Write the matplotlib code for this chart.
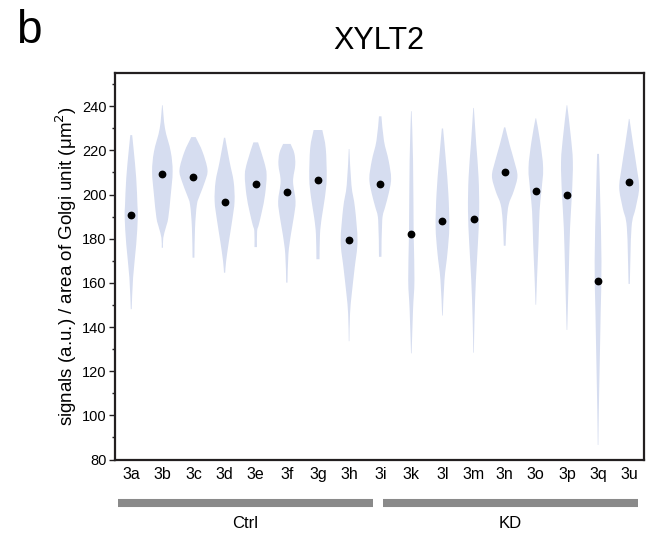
import matplotlib
matplotlib.use("Agg")
import matplotlib.pyplot as plt
import matplotlib.transforms as mtransforms
from matplotlib.path import Path
from matplotlib.patches import PathPatch
from matplotlib.ticker import MultipleLocator
import numpy as np

plt.rcParams['font.family'] = ['Liberation Sans', 'DejaVu Sans']

# sample names along the x axis
samples = ['3a', '3b', '3c', '3d', '3e', '3f', '3g', '3h', '3i',
           '3k', '3l', '3m', '3n', '3o', '3p', '3q', '3u']

# median signal per sample
medians = [190.8, 209.1, 207.9, 196.6, 204.6, 201.1, 206.7, 179.3, 204.9,
           182.0, 188.0, 189.0, 210.0, 201.7, 200.0, 161.0, 205.8]

# violin outlines: signal levels (top to bottom) and density half-widths
violin_levels = [
    [226.9, 220.0, 207.4, 195.0, 189.4, 177.4, 162.4, 148.1],
    [240.4, 229.9, 219.4, 210.4, 199.9, 189.4, 184.9, 180.4, 175.9],
    [226.0, 219.4, 211.2, 205.9, 199.9, 195.4, 184.9, 171.4],
    [225.7, 214.9, 205.9, 196.9, 187.9, 178.9, 169.9, 164.6],
    [223.6, 214.9, 208.9, 199.9, 192.4, 186.4, 183.4, 176.2],
    [222.9, 218.7, 213.4, 205.9, 196.9, 189.4, 181.9, 172.9, 160.1],
    [229.2, 220.9, 207.4, 198.4, 189.4, 181.9, 170.7],
    [220.6, 204.4, 193.9, 178.9, 166.9, 154.9, 145.9, 133.6],
    [235.4, 224.4, 215.4, 207.2, 200.3, 194.4, 188.4, 171.8],
    [237.7, 215.4, 182.4, 161.4, 147.9, 128.1],
    [229.9, 215.4, 200.4, 185.4, 173.4, 161.4, 145.2],
    [239.2, 222.9, 207.9, 192.9, 177.9, 161.4, 143.4, 128.4],
    [230.4, 222.5, 215.0, 208.3, 201.5, 195.5, 188.0, 176.8],
    [234.5, 224.0, 212.0, 201.5, 192.5, 177.5, 162.4, 150.1],
    [240.4, 226.9, 214.9, 199.9, 184.9, 162.4, 138.7],
    [218.4, 199.9, 169.9, 147.4, 124.9, 102.4, 86.6],
    [234.2, 222.5, 212.0, 203.0, 194.0, 185.0, 159.5],
]
violin_widths = [
    [0.03, 0.08, 0.16, 0.20, 0.21, 0.16, 0.06, 0.015],
    [0.01, 0.085, 0.27, 0.33, 0.27, 0.19, 0.11, 0.03, 0.02],
    [0.07, 0.29, 0.45, 0.37, 0.21, 0.11, 0.05, 0.03],
    [0.02, 0.16, 0.29, 0.32, 0.24, 0.14, 0.05, 0.02],
    [0.075, 0.27, 0.35, 0.30, 0.20, 0.10, 0.045, 0.04],
    [0.12, 0.24, 0.27, 0.20, 0.28, 0.22, 0.13, 0.05, 0.02],
    [0.14, 0.25, 0.28, 0.22, 0.12, 0.065, 0.05],
    [0.01, 0.075, 0.19, 0.27, 0.18, 0.085, 0.03, 0.01],
    [0.04, 0.12, 0.27, 0.35, 0.27, 0.16, 0.065, 0.04],
    [0.01, 0.055, 0.075, 0.10, 0.055, 0.01],
    [0.02, 0.11, 0.19, 0.22, 0.16, 0.065, 0.01],
    [0.01, 0.085, 0.16, 0.18, 0.14, 0.075, 0.03, 0.01],
    [0.02, 0.16, 0.31, 0.41, 0.29, 0.13, 0.065, 0.03],
    [0.01, 0.14, 0.235, 0.18, 0.12, 0.085, 0.04, 0.01],
    [0.01, 0.12, 0.19, 0.16, 0.10, 0.055, 0.01],
    [0.03, 0.065, 0.11, 0.085, 0.055, 0.025, 0.01],
    [0.01, 0.13, 0.245, 0.32, 0.21, 0.075, 0.02],
]

# condition groups: name and extent of the bar in sample units
group_names = ['Ctrl', 'KD']
group_spans = [(-0.43, 7.77), (8.09, 16.28)]

violin_color = '#d6ddf0'
frame_color = '#231f20'


def smooth_side(pts):
    """Bezier (Catmull-Rom) segments through a list of outline points."""
    p = np.vstack([pts[0], pts, pts[-1]])
    verts, codes = [], []
    for i in range(1, len(p) - 2):
        c1 = p[i] + (p[i + 1] - p[i - 1]) / 6.0
        c2 = p[i + 1] - (p[i + 2] - p[i]) / 6.0
        verts += [c1, c2, p[i + 1]]
        codes += [Path.CURVE4] * 3
    return verts, codes


def violin_path(x, lev, wid):
    lev = np.asarray(lev, float)
    wid = np.asarray(wid, float)
    right = np.column_stack([x + wid, lev])
    left = np.column_stack([x - wid, lev])[::-1]
    verts = [right[0]]
    codes = [Path.MOVETO]
    v, c = smooth_side(right)
    verts += v
    codes += c
    verts.append(left[0])
    codes.append(Path.LINETO)
    v, c = smooth_side(left)
    verts += v
    codes += c
    verts.append(right[0])
    codes.append(Path.CLOSEPOLY)
    return Path(np.array(verts), codes)


fig = plt.figure(figsize=(6.5, 5.35), dpi=100)
ax = fig.add_axes([0.177, 0.141, 0.813, 0.7225])

pos = np.arange(len(samples))
for x, lev, wid in zip(pos, violin_levels, violin_widths):
    ax.add_patch(PathPatch(violin_path(x, lev, wid), facecolor=violin_color,
                           edgecolor='none', lw=0))

ax.plot(pos, medians, 'o', color='black', markersize=4.6, zorder=3)

ax.set_xlim(-0.52, 16.46)
ax.set_ylim(80, 255)
ax.set_xticks(pos)
ax.set_xticklabels(samples, fontsize=11.5)
ax.tick_params(axis='x', length=0, pad=5)
ax.yaxis.set_major_locator(MultipleLocator(20))
ax.yaxis.set_minor_locator(MultipleLocator(10))
ax.set_yticks(np.arange(80, 241, 20))
ax.tick_params(axis='y', which='major', length=4, width=1, pad=2,
               labelsize=10.5, color=frame_color)
ax.tick_params(axis='y', which='minor', length=2.5, width=1, color=frame_color)
for sp in ax.spines.values():
    sp.set_linewidth(1.6)
    sp.set_color(frame_color)

ax.set_ylabel('signals (a.u.) / area of Golgi unit (\u03bcm$^2$)', fontsize=13.5)
ax.yaxis.set_label_coords(-0.068, 0.5)

ax.text(0.5, 1.061, 'XYLT2', transform=ax.transAxes, ha='center',
        va='baseline', fontsize=22)
fig.text(0.024, 0.92, 'b', ha='left', va='baseline', fontsize=33)

# group bars below the sample labels
trans = mtransforms.blended_transform_factory(ax.transData, ax.transAxes)
for name, (x0, x1) in zip(group_names, group_spans):
    ax.plot([x0, x1], [-0.112, -0.112], transform=trans, color='#8a8a8a',
            lw=5.8, solid_capstyle='butt', clip_on=False)
    ax.text((x0 + x1) / 2, -0.165, name, transform=trans, ha='center',
            va='center', fontsize=12)

fig.savefig('out.png', dpi=100)
